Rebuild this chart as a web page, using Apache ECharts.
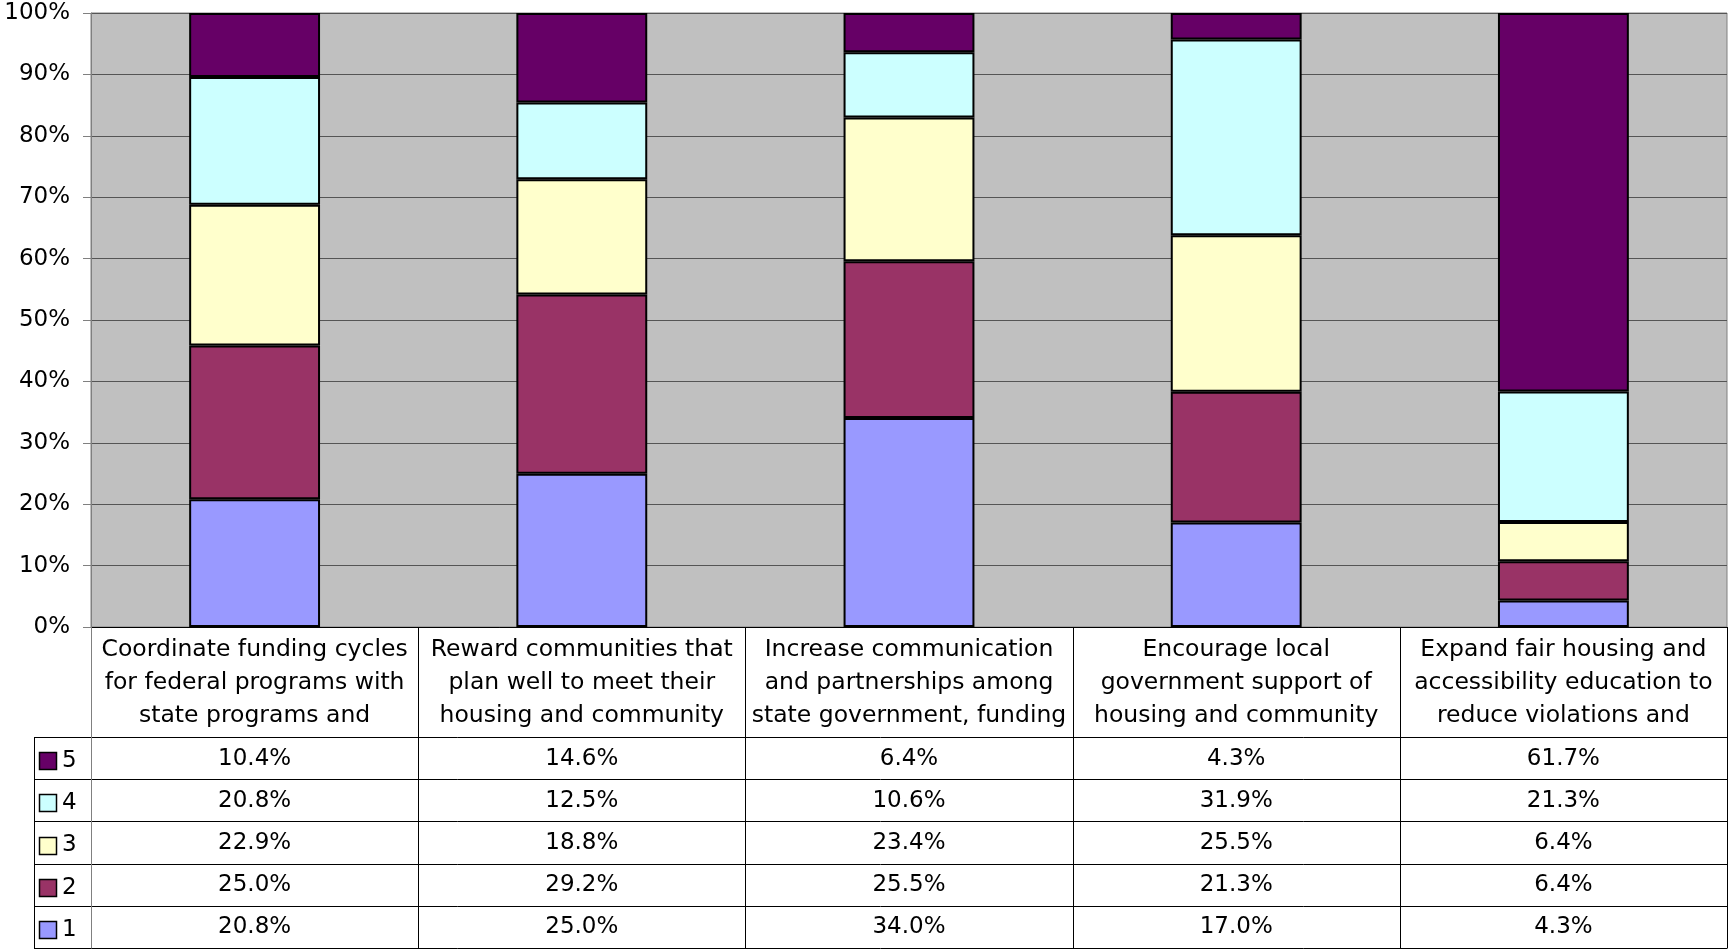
<!DOCTYPE html>
<html>
<head>
<meta charset="utf-8">
<script src="https://cdn.jsdelivr.net/npm/echarts@6/dist/echarts.min.js"></script>
<style>
html,body{margin:0;padding:0;background:#fff;}
#chart{width:1728px;height:949px;}
</style>
</head>
<body>
<div id="chart"></div>
<script>
const categories = [
  'Coordinate funding cycles\nfor federal programs with\nstate programs and',
  'Reward communities that\nplan well to meet their\nhousing and community',
  'Increase communication\nand partnerships among\nstate government, funding',
  'Encourage local\ngovernment support of\nhousing and community',
  'Expand fair housing and\naccessibility education to\nreduce violations and'
];
const seriesNames = ['1', '2', '3', '4', '5'];
const s1 = [20.8, 25.0, 34.0, 17.0, 4.3];
const s2 = [25.0, 29.2, 25.5, 21.3, 6.4];
const s3 = [22.9, 18.8, 23.4, 25.5, 6.4];
const s4 = [20.8, 12.5, 10.6, 31.9, 21.3];
const s5 = [10.4, 14.6, 6.4, 4.3, 61.7];
const seriesValues = [s1, s2, s3, s4, s5];
const colors = ['#9999FF', '#993366', '#FFFFCC', '#CCFFFF', '#660066'];
const yMin = 0, yMax = 100, yStep = 10;

const FONT = "'DejaVu Sans', Verdana, sans-serif";
const W = 1728;
const GRID_LEFT = 91, GRID_TOP = 13, GRID_RIGHT_X = 1727, GRID_BOTTOM_Y = 627;
const TABLE_TOP = 737, TABLE_BOTTOM = 948, LEGEND_LEFT = 34;
const nCat = categories.length;
const colW = (GRID_RIGHT_X - GRID_LEFT) / nCat;
const rowH = (TABLE_BOTTOM - TABLE_TOP) / seriesNames.length;

// 100% stacked: normalise each category to its total
const totals = categories.map((c, i) => seriesValues.reduce((a, s) => a + s[i], 0));

const series = seriesNames.map((name, k) => ({
  name: name,
  type: 'bar',
  stack: 'total',
  barWidth: '40%',
  data: seriesValues[k].map((v, i) => v / totals[i] * 100),
  itemStyle: { color: colors[k], borderColor: '#000', borderWidth: 2 },
  emphasis: { disabled: true }
}));

const graphics = [];
const line = (x1, y1, x2, y2, color) => graphics.push({
  type: 'line', silent: true, z: 10,
  shape: { x1, y1, x2, y2 },
  style: { stroke: color || '#000', lineWidth: 1 }
});
for (let r = 0; r <= seriesNames.length; r++) {
  const y = Math.round(TABLE_TOP + r * rowH) + 0.5;
  line(LEGEND_LEFT, y, GRID_RIGHT_X, y);
}
line(LEGEND_LEFT + 0.5, TABLE_TOP, LEGEND_LEFT + 0.5, TABLE_BOTTOM + 0.5);
for (let c = 0; c <= nCat; c++) {
  const x = Math.round(GRID_LEFT + c * colW) + 0.5;
  line(x, GRID_BOTTOM_Y, x, TABLE_BOTTOM + 0.5, c === 0 ? '#808080' : '#000');
}
for (let r = 0; r < seriesNames.length; r++) {
  const k = seriesNames.length - 1 - r;
  const yc = TABLE_TOP + r * rowH + rowH / 2;
  graphics.push({
    type: 'rect', silent: true, z: 11,
    shape: { x: 39.5, y: Math.round(yc - 6) + 0.5, width: 17, height: 17 },
    style: { fill: colors[k], stroke: '#000', lineWidth: 1.5 }
  });
  graphics.push({
    type: 'text', silent: true, z: 11,
    style: { text: seriesNames[k], x: 62, y: yc + 3, font: '23px ' + FONT, fill: '#000', textVerticalAlign: 'middle', textAlign: 'left' }
  });
  for (let i = 0; i < nCat; i++) {
    graphics.push({
      type: 'text', silent: true, z: 11,
      style: {
        text: seriesValues[k][i].toFixed(1) + '%',
        x: GRID_LEFT + colW * (i + 0.5), y: yc + 0.5,
        font: '23px ' + FONT, fill: '#000', textAlign: 'center', textVerticalAlign: 'middle'
      }
    });
  }
}

const chart = echarts.init(document.getElementById('chart'), null, { renderer: 'canvas' });
chart.setOption({
  animation: false,
  backgroundColor: '#fff',
  textStyle: { fontFamily: FONT },
  grid: {
    left: GRID_LEFT, top: GRID_TOP, right: W - GRID_RIGHT_X, bottom: 949 - GRID_BOTTOM_Y,
    show: true, backgroundColor: '#C0C0C0', borderColor: '#808080', borderWidth: 1,
    containLabel: false
  },
  xAxis: {
    type: 'category',
    data: categories,
    axisLine: { show: true, lineStyle: { color: '#000', width: 1 } },
    axisTick: { show: false },
    axisLabel: {
      interval: 0, margin: 6, fontSize: 23.5, lineHeight: 33, color: '#000',
      fontFamily: FONT, align: 'center', verticalAlign: 'top'
    },
    splitLine: { show: false }
  },
  yAxis: {
    type: 'value',
    min: yMin, max: yMax, interval: yStep,
    axisLine: { show: true, lineStyle: { color: '#808080', width: 1 } },
    axisTick: { show: true, length: 8, lineStyle: { color: '#808080' } },
    axisLabel: { formatter: '{value}%', fontSize: 23, color: '#000', margin: 21, fontFamily: FONT },
    splitLine: { show: true, lineStyle: { color: '#555555', width: 1 } }
  },
  series: series,
  graphic: graphics
});
</script>
</body>
</html>
